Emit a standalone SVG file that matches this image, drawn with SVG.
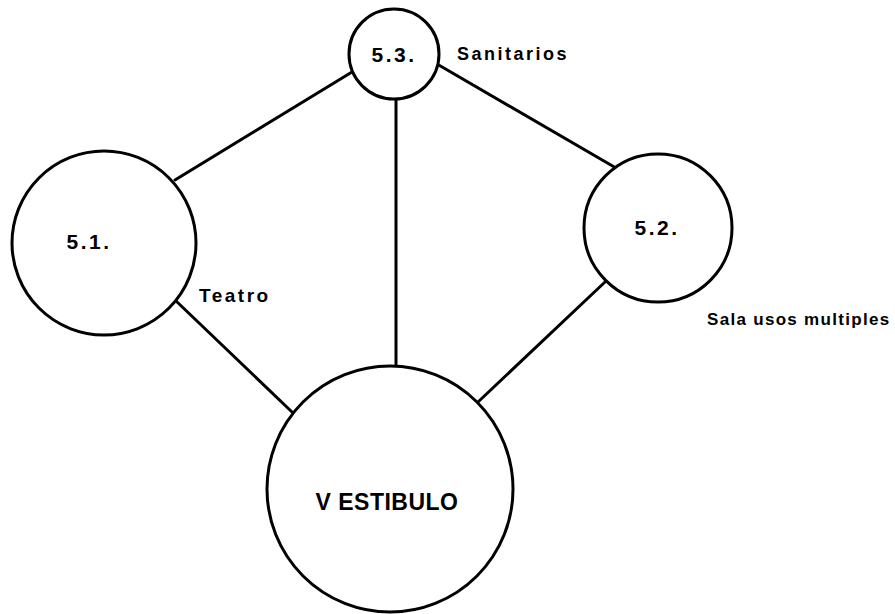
<svg xmlns="http://www.w3.org/2000/svg" width="895" height="614" viewBox="0 0 895 614">
<style>
.n{fill:#fff;stroke:#000;stroke-width:3}
.c line{stroke:#000;stroke-width:3;stroke-linecap:round}
text{font-family:"Liberation Sans",Arial,sans-serif;font-weight:bold;fill:#000}
.id{font-size:21px;letter-spacing:2.5px;text-anchor:middle}
.lb{font-size:18px;letter-spacing:2.5px}
</style>
<rect width="895" height="614" fill="#fff"/>
<g id="connectors" class="c">
<line x1="175" y1="180" x2="352" y2="72"/>
<line x1="437" y1="64" x2="616" y2="168"/>
<line x1="396" y1="99" x2="396" y2="366"/>
<line x1="175" y1="300" x2="292" y2="412"/>
<line x1="605" y1="282" x2="478" y2="402"/>
</g>
<g id="n53">
<circle class="n" cx="394" cy="54" r="45"/>
<text class="id" x="394" y="62">5.3.</text>
<text class="lb" x="457" y="60">Sanitarios</text>
</g>
<g id="n51">
<circle class="n" cx="104" cy="243" r="92"/>
<text class="id" x="89" y="249">5.1.</text>
<text class="lb" x="199" y="302" style="font-size:19px">Teatro</text>
</g>
<g id="n52">
<circle class="n" cx="658" cy="228" r="74"/>
<text class="id" x="657" y="235">5.2.</text>
<text class="lb" x="707" y="325" style="font-size:17px;letter-spacing:1.3px">Sala usos multiples</text>
</g>
<g id="nv">
<circle class="n" cx="390" cy="489" r="123"/>
<text x="387" y="510" style="font-size:23px;letter-spacing:0.5px;text-anchor:middle">V ESTIBULO</text>
</g>
</svg>
